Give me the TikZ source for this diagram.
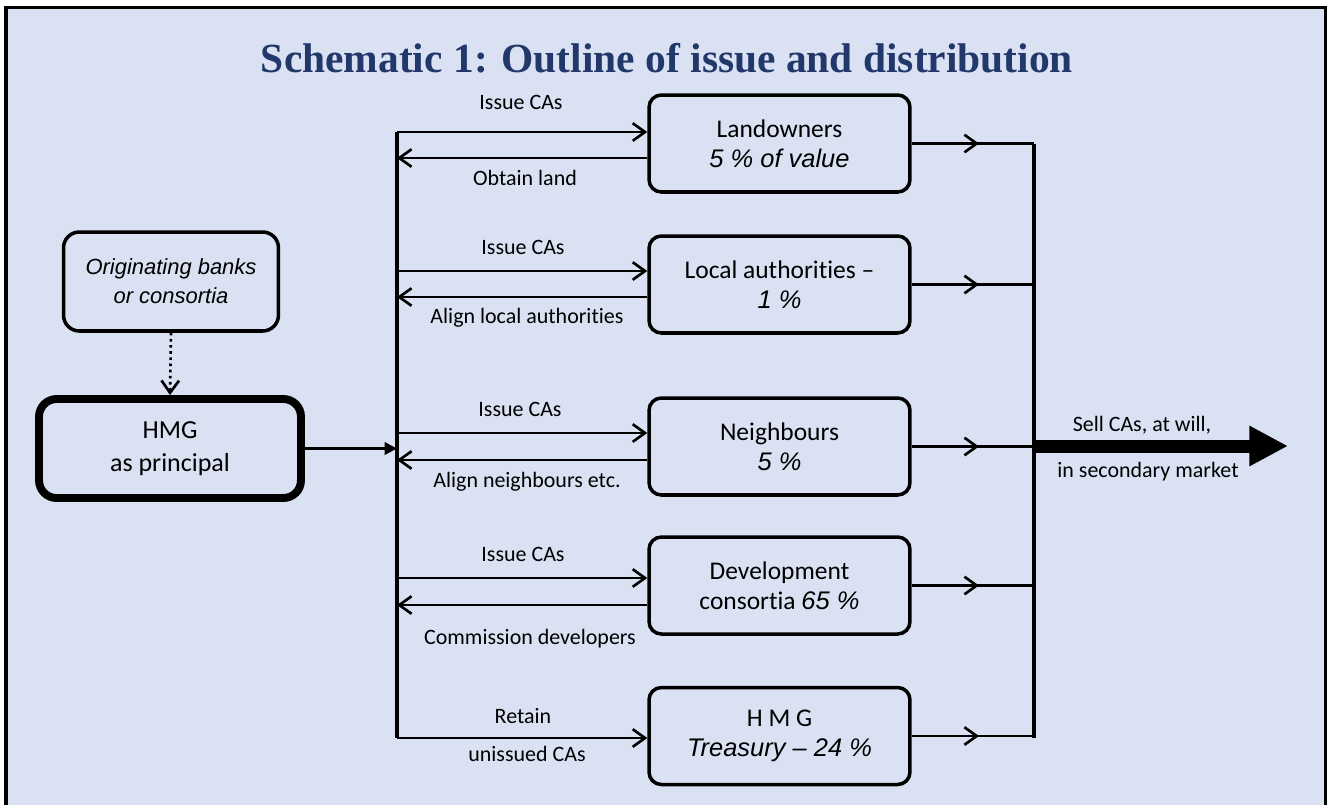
\documentclass[tikz,border=0pt]{standalone}
\usepackage{fontspec}
\setmainfont{Carlito}[Ligatures={NoCommon,NoRequired,NoContextual}]
\newfontfamily\arialfont{Liberation Sans}
\newfontfamily\titlefont{Liberation Serif}
\usetikzlibrary{arrows.meta,decorations.markings}
\definecolor{panelblue}{HTML}{D9E1F2}
\definecolor{titleblue}{HTML}{22386A}
\newcommand{\pc}[1]{{\arialfont\itshape #1}}
\tikzset{
  party/.style={draw, line width=2pt, rounded corners=7pt, minimum width=5.22cm, minimum height=1.94cm, inner sep=0pt, align=center, font=\fontsize{14.5}{17}\selectfont},
  flow/.style={line width=1.5pt, -{Straight Barb[length=7pt,width=10pt]}},
  midflow/.style={line width=1.5pt, postaction={decorate}, decoration={markings, mark=at position 0.55 with {\arrow{Straight Barb[length=7pt,width=10pt]}}}},
  busline/.style={line width=1.8pt},
  lbl/.style={font=\fontsize{12.5}{14}\selectfont}
}
\begin{document}
\begin{tikzpicture}[x=0.02cm,y=-0.02cm]
\fill[white] (0,0) rectangle (1332,805);
\fill[panelblue] (6,7) rectangle (1325,805);
\draw[line width=1.8pt] (6,805) -- (6,7.5) -- (1325.5,7.5) -- (1325.5,805);

\node[font=\titlefont\bfseries\fontsize{23.6}{27}\selectfont, text=titleblue] (title) at (667,58) {Schematic 1: Outline of issue and distribution};

\node[party, minimum width=4.3cm, minimum height=1.98cm, rounded corners=9pt, font=\arialfont\itshape\fontsize{12.5}{16.5}\selectfont] (orig) at (171,281.5) {Originating banks\\or consortia};
\node[party, line width=4.5pt, minimum width=5.24cm, minimum height=1.98cm, rounded corners=10pt, font=\fontsize{14.8}{19}\selectfont] (hmg) at (170,448.5) {HMG\\as principal};
\draw[flow, dotted] (orig.south) -- (hmg.north);

\node[party] (lan) at (779.5,143.5) {Landowners\\\pc{5 \% of value}};
\node[party] (loc) at (779.5,284.5) {Local authorities –\\\pc{1 \%}};
\node[party] (nei) at (779.5,446.5) {Neighbours\\\pc{5 \%}};
\node[party] (dev) at (779.5,585.5) {Development\\consortia \pc{65 \%}};
\node[party] (tre) at (779.5,736) {H M G\\\pc{Treasury – 24 \%}};

\coordinate (busT) at (397,132);
\coordinate (busB) at (397,738);
\draw[busline] (busT) -- (busB);
\draw[line width=1.5pt, -{Triangle[length=7pt,width=7pt]}] (hmg.east) -- (hmg.east -| busT);

\coordinate (f2) at (397,271);
\coordinate (f3) at (397,433);
\coordinate (f4) at (397,578);
\coordinate (b1) at (397,158);
\coordinate (b2) at (397,297);
\coordinate (b3) at (397,460);
\coordinate (b4) at (397,605);

\draw[flow] (busT) -- (busT -| lan.west);
\draw[flow] (b1 -| lan.west) -- (b1);
\draw[flow] (f2) -- (f2 -| loc.west);
\draw[flow] (b2 -| loc.west) -- (b2);
\draw[flow] (f3) -- (f3 -| nei.west);
\draw[flow] (b3 -| nei.west) -- (b3);
\draw[flow] (f4) -- (f4 -| dev.west);
\draw[flow] (b4 -| dev.west) -- (b4);
\draw[flow] (busB) -- (busB -| tre.west);

\node[lbl] (i1) at (521,102) {Issue CAs};
\node[lbl] (o1) at (525,178) {Obtain land};
\node[lbl] (i2) at (523,247) {Issue CAs};
\node[lbl] (o2) at (527,318) {Align local authorities};
\node[lbl] (i3) at (520,409) {Issue CAs};
\node[lbl] (o3) at (527,482) {Align neighbours etc.};
\node[lbl] (i4) at (523,554) {Issue CAs};
\node[lbl] (o4) at (530,639) {Commission developers};
\node[lbl] (i5) at (523,716) {Retain};
\node[lbl] (o5) at (527,754) {unissued CAs};

\coordinate (sellT) at (1034,143.5);
\coordinate (sellB) at (1034,738);
\draw[busline] (sellT) -- (sellB);
\draw[midflow] (lan.east) -- (lan.east -| sellT);
\draw[midflow] (loc.east) -- (loc.east -| sellT);
\draw[midflow] (nei.east) -- (nei.east -| sellT);
\draw[midflow] (dev.east) -- (dev.east -| sellT);
\draw[midflow] (tre.east) -- (tre.east -| sellT);

\coordinate (sellS) at (1034,446);
\coordinate (sellE) at (1288,446);
\draw[line width=7.4pt, -{Triangle[length=22pt,width=21.5pt]}] (sellS) -- (sellE);
\node[lbl] (s1) at (1142,425) {Sell CAs, at will,};
\node[lbl] (s2) at (1148,472) {in secondary market};
\end{tikzpicture}
\end{document}
